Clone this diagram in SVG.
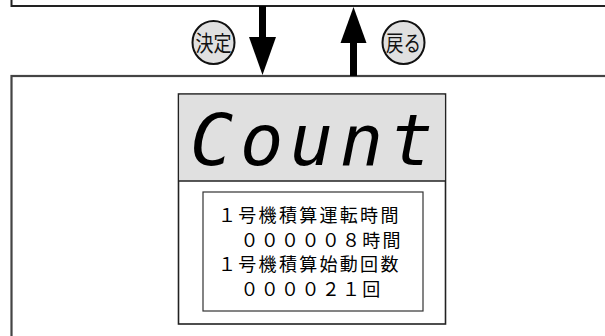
<svg xmlns="http://www.w3.org/2000/svg" width="605" height="336" viewBox="0 0 605 336">
  <style>
    .frame { fill: #ffffff; stroke: #222222; stroke-width: 2; }
    .frame2 { fill: #ffffff; stroke: #444444; stroke-width: 2.2; }
    .key { fill: #e0e0e0; stroke: #111111; stroke-width: 2; }
    .keytxt { font-family: "Noto Sans CJK JP", "Noto Sans", sans-serif; font-size: 22px; fill: #111111; }
    .arrow { fill: #000000; }
    .lcd { fill: #ffffff; stroke: #222222; stroke-width: 1.6; }
    .lcdtop { fill: #e0e0e0; }
    .seg { font-family: "DejaVu Sans Mono", monospace; font-style: italic; font-size: 72px; fill: #000000; }
    .info { fill: #ffffff; stroke: #333333; stroke-width: 1.2; }
    .infotxt { font-family: "Noto Sans CJK JP", "Noto Sans", sans-serif; font-size: 18px; letter-spacing: 2.3px; fill: #000000; }
  </style>

  <g id="prev-screen">
    <rect class="frame" x="11.5" y="-20" width="620" height="26"/>
  </g>

  <g id="count-screen">
    <rect class="frame2" x="11.5" y="76" width="620" height="290"/>
    <g id="lcd">
      <rect class="lcd" x="178.5" y="94" width="267" height="230"/>
      <rect class="lcdtop" x="179.3" y="94.8" width="265.4" height="86"/>
      <line x1="178.5" y1="181" x2="445.5" y2="181" stroke="#222222" stroke-width="1.6"/>
      <text class="seg" x="190" y="165" textLength="243" lengthAdjust="spacing">Count</text>
    </g>
    <g id="info">
      <rect class="info" x="203" y="192" width="220" height="119"/>
      <text class="infotxt" x="218" y="222">１号機積算運転時間</text>
      <text class="infotxt" x="240.5" y="247">０００００８時間</text>
      <text class="infotxt" x="218" y="271">１号機積算始動回数</text>
      <text class="infotxt" x="240.5" y="296">００００２１回</text>
    </g>
  </g>

  <g id="connectors">
    <g id="arrow-down">
      <rect class="arrow" x="259" y="6" width="7" height="32"/>
      <polygon class="arrow" points="249,37 276,37 262.5,75"/>
    </g>
    <g id="arrow-up">
      <rect class="arrow" x="350" y="42" width="7" height="34"/>
      <polygon class="arrow" points="340.5,43 366.5,43 353.5,7"/>
    </g>
  </g>

  <g id="key-enter">
    <ellipse class="key" cx="213.5" cy="42.5" rx="21" ry="21.5"/>
    <text class="keytxt" x="213.5" y="51" text-anchor="middle" textLength="36" lengthAdjust="spacingAndGlyphs">決定</text>
  </g>
  <g id="key-back">
    <ellipse class="key" cx="403.5" cy="42.5" rx="21" ry="21.5"/>
    <text class="keytxt" x="403.5" y="51" text-anchor="middle" textLength="35" lengthAdjust="spacingAndGlyphs">戻る</text>
  </g>
</svg>
